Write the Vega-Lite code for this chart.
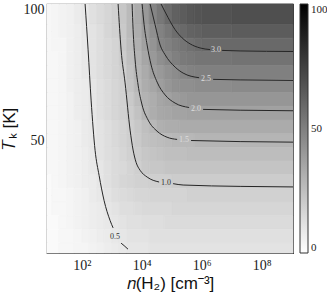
{
"$schema":"https://vega.github.io/schema/vega-lite/v6.json",
"width":246,"height":249,
"autosize":{"type":"none"},
"padding":{"left":47,"top":4,"right":34,"bottom":48},
"config":{"view":{"stroke":"#3a3a3a","strokeWidth":1.2},"axis":{"grid":false,"domainColor":"#3a3a3a","tickColor":"#3a3a3a","labelColor":"#222222","titleColor":"#111111","labelFont":"Liberation Serif","labelFontSize":14,"titleFont":"Liberation Sans","titleFontSize":17,"titleFontWeight":"normal","tickSize":-4,"labelOverlap":false,"labelFlush":false}},
"datasets":{
"cells":[
{"x0":0.84,"x1":1,"t0":92.5,"t1":100,"v":3},{"x0":1,"x1":1.25,"t0":92.5,"t1":100,"v":4},{"x0":1.25,"x1":1.5,"t0":92.5,"t1":100,"v":5},{"x0":1.5,"x1":1.75,"t0":92.5,"t1":100,"v":6},{"x0":1.75,"x1":2,"t0":92.5,"t1":100,"v":8},{"x0":2,"x1":2.25,"t0":92.5,"t1":100,"v":9},{"x0":2.25,"x1":2.5,"t0":92.5,"t1":100,"v":12},{"x0":2.5,"x1":2.75,"t0":92.5,"t1":100,"v":14},{"x0":2.75,"x1":3,"t0":92.5,"t1":100,"v":16},{"x0":3,"x1":3.25,"t0":92.5,"t1":100,"v":18},{"x0":3.25,"x1":3.5,"t0":92.5,"t1":100,"v":22},{"x0":3.5,"x1":3.75,"t0":92.5,"t1":100,"v":27},{"x0":3.75,"x1":4,"t0":92.5,"t1":100,"v":33},{"x0":4,"x1":4.25,"t0":92.5,"t1":100,"v":40},{"x0":4.25,"x1":4.5,"t0":92.5,"t1":100,"v":48},{"x0":4.5,"x1":4.75,"t0":92.5,"t1":100,"v":53},{"x0":4.75,"x1":5,"t0":92.5,"t1":100,"v":58},{"x0":5,"x1":5.25,"t0":92.5,"t1":100,"v":62},{"x0":5.25,"x1":5.5,"t0":92.5,"t1":100,"v":64},{"x0":5.5,"x1":5.75,"t0":92.5,"t1":100,"v":66},{"x0":5.75,"x1":6,"t0":92.5,"t1":100,"v":67},{"x0":6,"x1":7,"t0":92.5,"t1":100,"v":68},{"x0":7,"x1":9.04,"t0":92.5,"t1":100,"v":69},
{"x0":0.84,"x1":1,"t0":87.5,"t1":92.5,"v":3},{"x0":1,"x1":1.25,"t0":87.5,"t1":92.5,"v":4},{"x0":1.25,"x1":1.5,"t0":87.5,"t1":92.5,"v":5},{"x0":1.5,"x1":1.75,"t0":87.5,"t1":92.5,"v":6},{"x0":1.75,"x1":2,"t0":87.5,"t1":92.5,"v":7},{"x0":2,"x1":2.25,"t0":87.5,"t1":92.5,"v":9},{"x0":2.25,"x1":2.5,"t0":87.5,"t1":92.5,"v":11},{"x0":2.5,"x1":2.75,"t0":87.5,"t1":92.5,"v":13},{"x0":2.75,"x1":3,"t0":87.5,"t1":92.5,"v":16},{"x0":3,"x1":3.25,"t0":87.5,"t1":92.5,"v":18},{"x0":3.25,"x1":3.5,"t0":87.5,"t1":92.5,"v":21},{"x0":3.5,"x1":3.75,"t0":87.5,"t1":92.5,"v":27},{"x0":3.75,"x1":4,"t0":87.5,"t1":92.5,"v":32},{"x0":4,"x1":4.25,"t0":87.5,"t1":92.5,"v":38},{"x0":4.25,"x1":4.5,"t0":87.5,"t1":92.5,"v":44},{"x0":4.5,"x1":4.75,"t0":87.5,"t1":92.5,"v":49},{"x0":4.75,"x1":5,"t0":87.5,"t1":92.5,"v":53},{"x0":5,"x1":5.25,"t0":87.5,"t1":92.5,"v":57},{"x0":5.25,"x1":5.5,"t0":87.5,"t1":92.5,"v":59},{"x0":5.5,"x1":5.75,"t0":87.5,"t1":92.5,"v":61},{"x0":5.75,"x1":6,"t0":87.5,"t1":92.5,"v":62},{"x0":6,"x1":7,"t0":87.5,"t1":92.5,"v":63},{"x0":7,"x1":9.04,"t0":87.5,"t1":92.5,"v":64},
{"x0":0.84,"x1":1,"t0":82.5,"t1":87.5,"v":3},{"x0":1,"x1":1.5,"t0":82.5,"t1":87.5,"v":4},{"x0":1.5,"x1":1.75,"t0":82.5,"t1":87.5,"v":6},{"x0":1.75,"x1":2,"t0":82.5,"t1":87.5,"v":7},{"x0":2,"x1":2.25,"t0":82.5,"t1":87.5,"v":9},{"x0":2.25,"x1":2.5,"t0":82.5,"t1":87.5,"v":11},{"x0":2.5,"x1":2.75,"t0":82.5,"t1":87.5,"v":13},{"x0":2.75,"x1":3,"t0":82.5,"t1":87.5,"v":15},{"x0":3,"x1":3.25,"t0":82.5,"t1":87.5,"v":17},{"x0":3.25,"x1":3.5,"t0":82.5,"t1":87.5,"v":21},{"x0":3.5,"x1":3.75,"t0":82.5,"t1":87.5,"v":26},{"x0":3.75,"x1":4,"t0":82.5,"t1":87.5,"v":31},{"x0":4,"x1":4.25,"t0":82.5,"t1":87.5,"v":37},{"x0":4.25,"x1":4.5,"t0":82.5,"t1":87.5,"v":42},{"x0":4.5,"x1":4.75,"t0":82.5,"t1":87.5,"v":48},{"x0":4.75,"x1":5,"t0":82.5,"t1":87.5,"v":50},{"x0":5,"x1":5.25,"t0":82.5,"t1":87.5,"v":52},{"x0":5.25,"x1":5.5,"t0":82.5,"t1":87.5,"v":54},{"x0":5.5,"x1":5.75,"t0":82.5,"t1":87.5,"v":56},{"x0":5.75,"x1":6,"t0":82.5,"t1":87.5,"v":58},{"x0":6,"x1":9.04,"t0":82.5,"t1":87.5,"v":59},
{"x0":0.84,"x1":1.25,"t0":77.5,"t1":82.5,"v":3},{"x0":1.25,"x1":1.5,"t0":77.5,"t1":82.5,"v":4},{"x0":1.5,"x1":1.75,"t0":77.5,"t1":82.5,"v":6},{"x0":1.75,"x1":2,"t0":77.5,"t1":82.5,"v":7},{"x0":2,"x1":2.25,"t0":77.5,"t1":82.5,"v":9},{"x0":2.25,"x1":2.5,"t0":77.5,"t1":82.5,"v":11},{"x0":2.5,"x1":2.75,"t0":77.5,"t1":82.5,"v":13},{"x0":2.75,"x1":3,"t0":77.5,"t1":82.5,"v":15},{"x0":3,"x1":3.25,"t0":77.5,"t1":82.5,"v":17},{"x0":3.25,"x1":3.5,"t0":77.5,"t1":82.5,"v":20},{"x0":3.5,"x1":3.75,"t0":77.5,"t1":82.5,"v":25},{"x0":3.75,"x1":4,"t0":77.5,"t1":82.5,"v":30},{"x0":4,"x1":4.25,"t0":77.5,"t1":82.5,"v":35},{"x0":4.25,"x1":4.5,"t0":77.5,"t1":82.5,"v":40},{"x0":4.5,"x1":4.75,"t0":77.5,"t1":82.5,"v":44},{"x0":4.75,"x1":5,"t0":77.5,"t1":82.5,"v":47},{"x0":5,"x1":5.25,"t0":77.5,"t1":82.5,"v":50},{"x0":5.25,"x1":5.5,"t0":77.5,"t1":82.5,"v":52},{"x0":5.5,"x1":5.75,"t0":77.5,"t1":82.5,"v":53},{"x0":5.75,"x1":7,"t0":77.5,"t1":82.5,"v":54},{"x0":7,"x1":9.04,"t0":77.5,"t1":82.5,"v":55},
{"x0":0.84,"x1":1.25,"t0":72.5,"t1":77.5,"v":3},{"x0":1.25,"x1":1.5,"t0":72.5,"t1":77.5,"v":4},{"x0":1.5,"x1":1.75,"t0":72.5,"t1":77.5,"v":6},{"x0":1.75,"x1":2,"t0":72.5,"t1":77.5,"v":7},{"x0":2,"x1":2.25,"t0":72.5,"t1":77.5,"v":9},{"x0":2.25,"x1":2.5,"t0":72.5,"t1":77.5,"v":11},{"x0":2.5,"x1":2.75,"t0":72.5,"t1":77.5,"v":13},{"x0":2.75,"x1":3,"t0":72.5,"t1":77.5,"v":15},{"x0":3,"x1":3.25,"t0":72.5,"t1":77.5,"v":17},{"x0":3.25,"x1":3.5,"t0":72.5,"t1":77.5,"v":19},{"x0":3.5,"x1":3.75,"t0":72.5,"t1":77.5,"v":24},{"x0":3.75,"x1":4,"t0":72.5,"t1":77.5,"v":29},{"x0":4,"x1":4.25,"t0":72.5,"t1":77.5,"v":33},{"x0":4.25,"x1":4.5,"t0":72.5,"t1":77.5,"v":38},{"x0":4.5,"x1":4.75,"t0":72.5,"t1":77.5,"v":40},{"x0":4.75,"x1":5,"t0":72.5,"t1":77.5,"v":43},{"x0":5,"x1":5.25,"t0":72.5,"t1":77.5,"v":45},{"x0":5.25,"x1":5.5,"t0":72.5,"t1":77.5,"v":48},{"x0":5.5,"x1":5.75,"t0":72.5,"t1":77.5,"v":49},{"x0":5.75,"x1":9.04,"t0":72.5,"t1":77.5,"v":50},
{"x0":0.84,"x1":1.25,"t0":67.5,"t1":72.5,"v":3},{"x0":1.25,"x1":1.5,"t0":67.5,"t1":72.5,"v":4},{"x0":1.5,"x1":1.75,"t0":67.5,"t1":72.5,"v":6},{"x0":1.75,"x1":2,"t0":67.5,"t1":72.5,"v":7},{"x0":2,"x1":2.25,"t0":67.5,"t1":72.5,"v":8},{"x0":2.25,"x1":2.5,"t0":67.5,"t1":72.5,"v":10},{"x0":2.5,"x1":2.75,"t0":67.5,"t1":72.5,"v":12},{"x0":2.75,"x1":3,"t0":67.5,"t1":72.5,"v":14},{"x0":3,"x1":3.25,"t0":67.5,"t1":72.5,"v":16},{"x0":3.25,"x1":3.5,"t0":67.5,"t1":72.5,"v":18},{"x0":3.5,"x1":3.75,"t0":67.5,"t1":72.5,"v":23},{"x0":3.75,"x1":4,"t0":67.5,"t1":72.5,"v":28},{"x0":4,"x1":4.25,"t0":67.5,"t1":72.5,"v":32},{"x0":4.25,"x1":4.5,"t0":67.5,"t1":72.5,"v":35},{"x0":4.5,"x1":4.75,"t0":67.5,"t1":72.5,"v":38},{"x0":4.75,"x1":5,"t0":67.5,"t1":72.5,"v":41},{"x0":5,"x1":5.25,"t0":67.5,"t1":72.5,"v":43},{"x0":5.25,"x1":5.75,"t0":67.5,"t1":72.5,"v":44},{"x0":5.75,"x1":7,"t0":67.5,"t1":72.5,"v":45},{"x0":7,"x1":9.04,"t0":67.5,"t1":72.5,"v":46},
{"x0":0.84,"x1":1.25,"t0":62.5,"t1":67.5,"v":3},{"x0":1.25,"x1":1.5,"t0":62.5,"t1":67.5,"v":4},{"x0":1.5,"x1":1.75,"t0":62.5,"t1":67.5,"v":5},{"x0":1.75,"x1":2,"t0":62.5,"t1":67.5,"v":7},{"x0":2,"x1":2.25,"t0":62.5,"t1":67.5,"v":8},{"x0":2.25,"x1":2.5,"t0":62.5,"t1":67.5,"v":10},{"x0":2.5,"x1":2.75,"t0":62.5,"t1":67.5,"v":12},{"x0":2.75,"x1":3,"t0":62.5,"t1":67.5,"v":14},{"x0":3,"x1":3.25,"t0":62.5,"t1":67.5,"v":16},{"x0":3.25,"x1":3.5,"t0":62.5,"t1":67.5,"v":18},{"x0":3.5,"x1":3.75,"t0":62.5,"t1":67.5,"v":21},{"x0":3.75,"x1":4,"t0":62.5,"t1":67.5,"v":26},{"x0":4,"x1":4.25,"t0":62.5,"t1":67.5,"v":30},{"x0":4.25,"x1":4.5,"t0":62.5,"t1":67.5,"v":32},{"x0":4.5,"x1":4.75,"t0":62.5,"t1":67.5,"v":35},{"x0":4.75,"x1":5,"t0":62.5,"t1":67.5,"v":37},{"x0":5,"x1":5.25,"t0":62.5,"t1":67.5,"v":39},{"x0":5.25,"x1":5.5,"t0":62.5,"t1":67.5,"v":40},{"x0":5.5,"x1":9.04,"t0":62.5,"t1":67.5,"v":41},
{"x0":0.84,"x1":1.25,"t0":57.5,"t1":62.5,"v":3},{"x0":1.25,"x1":1.5,"t0":57.5,"t1":62.5,"v":4},{"x0":1.5,"x1":1.75,"t0":57.5,"t1":62.5,"v":5},{"x0":1.75,"x1":2,"t0":57.5,"t1":62.5,"v":7},{"x0":2,"x1":2.25,"t0":57.5,"t1":62.5,"v":8},{"x0":2.25,"x1":2.5,"t0":57.5,"t1":62.5,"v":10},{"x0":2.5,"x1":2.75,"t0":57.5,"t1":62.5,"v":12},{"x0":2.75,"x1":3,"t0":57.5,"t1":62.5,"v":14},{"x0":3,"x1":3.25,"t0":57.5,"t1":62.5,"v":16},{"x0":3.25,"x1":3.5,"t0":57.5,"t1":62.5,"v":18},{"x0":3.5,"x1":3.75,"t0":57.5,"t1":62.5,"v":20},{"x0":3.75,"x1":4,"t0":57.5,"t1":62.5,"v":24},{"x0":4,"x1":4.25,"t0":57.5,"t1":62.5,"v":29},{"x0":4.25,"x1":4.5,"t0":57.5,"t1":62.5,"v":32},{"x0":4.5,"x1":4.75,"t0":57.5,"t1":62.5,"v":34},{"x0":4.75,"x1":5,"t0":57.5,"t1":62.5,"v":35},{"x0":5,"x1":5.5,"t0":57.5,"t1":62.5,"v":36},{"x0":5.5,"x1":9.04,"t0":57.5,"t1":62.5,"v":37},
{"x0":0.84,"x1":1.25,"t0":52.5,"t1":57.5,"v":3},{"x0":1.25,"x1":1.5,"t0":52.5,"t1":57.5,"v":4},{"x0":1.5,"x1":1.75,"t0":52.5,"t1":57.5,"v":5},{"x0":1.75,"x1":2,"t0":52.5,"t1":57.5,"v":6},{"x0":2,"x1":2.25,"t0":52.5,"t1":57.5,"v":8},{"x0":2.25,"x1":2.5,"t0":52.5,"t1":57.5,"v":9},{"x0":2.5,"x1":2.75,"t0":52.5,"t1":57.5,"v":11},{"x0":2.75,"x1":3,"t0":52.5,"t1":57.5,"v":13},{"x0":3,"x1":3.25,"t0":52.5,"t1":57.5,"v":15},{"x0":3.25,"x1":3.5,"t0":52.5,"t1":57.5,"v":17},{"x0":3.5,"x1":3.75,"t0":52.5,"t1":57.5,"v":19},{"x0":3.75,"x1":4,"t0":52.5,"t1":57.5,"v":22},{"x0":4,"x1":4.25,"t0":52.5,"t1":57.5,"v":25},{"x0":4.25,"x1":4.5,"t0":52.5,"t1":57.5,"v":28},{"x0":4.5,"x1":4.75,"t0":52.5,"t1":57.5,"v":31},{"x0":4.75,"x1":5.25,"t0":52.5,"t1":57.5,"v":32},{"x0":5.25,"x1":9.04,"t0":52.5,"t1":57.5,"v":33},
{"x0":0.84,"x1":1.25,"t0":47.5,"t1":52.5,"v":3},{"x0":1.25,"x1":1.5,"t0":47.5,"t1":52.5,"v":4},{"x0":1.5,"x1":1.75,"t0":47.5,"t1":52.5,"v":5},{"x0":1.75,"x1":2,"t0":47.5,"t1":52.5,"v":6},{"x0":2,"x1":2.25,"t0":47.5,"t1":52.5,"v":8},{"x0":2.25,"x1":2.5,"t0":47.5,"t1":52.5,"v":9},{"x0":2.5,"x1":2.75,"t0":47.5,"t1":52.5,"v":11},{"x0":2.75,"x1":3,"t0":47.5,"t1":52.5,"v":13},{"x0":3,"x1":3.25,"t0":47.5,"t1":52.5,"v":15},{"x0":3.25,"x1":3.5,"t0":47.5,"t1":52.5,"v":17},{"x0":3.5,"x1":3.75,"t0":47.5,"t1":52.5,"v":19},{"x0":3.75,"x1":4,"t0":47.5,"t1":52.5,"v":21},{"x0":4,"x1":4.25,"t0":47.5,"t1":52.5,"v":24},{"x0":4.25,"x1":4.5,"t0":47.5,"t1":52.5,"v":25},{"x0":4.5,"x1":4.75,"t0":47.5,"t1":52.5,"v":26},{"x0":4.75,"x1":5,"t0":47.5,"t1":52.5,"v":27},{"x0":5,"x1":5.75,"t0":47.5,"t1":52.5,"v":28},{"x0":5.75,"x1":9.04,"t0":47.5,"t1":52.5,"v":29},
{"x0":0.84,"x1":1.25,"t0":42.5,"t1":47.5,"v":3},{"x0":1.25,"x1":1.5,"t0":42.5,"t1":47.5,"v":4},{"x0":1.5,"x1":1.75,"t0":42.5,"t1":47.5,"v":5},{"x0":1.75,"x1":2,"t0":42.5,"t1":47.5,"v":6},{"x0":2,"x1":2.25,"t0":42.5,"t1":47.5,"v":7},{"x0":2.25,"x1":2.5,"t0":42.5,"t1":47.5,"v":9},{"x0":2.5,"x1":2.75,"t0":42.5,"t1":47.5,"v":11},{"x0":2.75,"x1":3,"t0":42.5,"t1":47.5,"v":13},{"x0":3,"x1":3.25,"t0":42.5,"t1":47.5,"v":14},{"x0":3.25,"x1":3.5,"t0":42.5,"t1":47.5,"v":16},{"x0":3.5,"x1":3.75,"t0":42.5,"t1":47.5,"v":18},{"x0":3.75,"x1":4,"t0":42.5,"t1":47.5,"v":20},{"x0":4,"x1":4.25,"t0":42.5,"t1":47.5,"v":22},{"x0":4.25,"x1":4.5,"t0":42.5,"t1":47.5,"v":23},{"x0":4.5,"x1":4.75,"t0":42.5,"t1":47.5,"v":24},{"x0":4.75,"x1":5.5,"t0":42.5,"t1":47.5,"v":25},{"x0":5.5,"x1":9.04,"t0":42.5,"t1":47.5,"v":26},
{"x0":0.84,"x1":1.25,"t0":37.5,"t1":42.5,"v":3},{"x0":1.25,"x1":1.5,"t0":37.5,"t1":42.5,"v":4},{"x0":1.5,"x1":1.75,"t0":37.5,"t1":42.5,"v":5},{"x0":1.75,"x1":2,"t0":37.5,"t1":42.5,"v":6},{"x0":2,"x1":2.25,"t0":37.5,"t1":42.5,"v":7},{"x0":2.25,"x1":2.5,"t0":37.5,"t1":42.5,"v":9},{"x0":2.5,"x1":2.75,"t0":37.5,"t1":42.5,"v":10},{"x0":2.75,"x1":3,"t0":37.5,"t1":42.5,"v":12},{"x0":3,"x1":3.25,"t0":37.5,"t1":42.5,"v":14},{"x0":3.25,"x1":3.5,"t0":37.5,"t1":42.5,"v":15},{"x0":3.5,"x1":3.75,"t0":37.5,"t1":42.5,"v":17},{"x0":3.75,"x1":4,"t0":37.5,"t1":42.5,"v":19},{"x0":4,"x1":4.25,"t0":37.5,"t1":42.5,"v":21},{"x0":4.25,"x1":4.75,"t0":37.5,"t1":42.5,"v":22},{"x0":4.75,"x1":9.04,"t0":37.5,"t1":42.5,"v":23},
{"x0":0.84,"x1":1,"t0":32.5,"t1":37.5,"v":2},{"x0":1,"x1":1.25,"t0":32.5,"t1":37.5,"v":3},{"x0":1.25,"x1":1.5,"t0":32.5,"t1":37.5,"v":4},{"x0":1.5,"x1":1.75,"t0":32.5,"t1":37.5,"v":5},{"x0":1.75,"x1":2,"t0":32.5,"t1":37.5,"v":6},{"x0":2,"x1":2.25,"t0":32.5,"t1":37.5,"v":7},{"x0":2.25,"x1":2.5,"t0":32.5,"t1":37.5,"v":8},{"x0":2.5,"x1":2.75,"t0":32.5,"t1":37.5,"v":10},{"x0":2.75,"x1":3,"t0":32.5,"t1":37.5,"v":12},{"x0":3,"x1":3.25,"t0":32.5,"t1":37.5,"v":14},{"x0":3.25,"x1":3.5,"t0":32.5,"t1":37.5,"v":16},{"x0":3.5,"x1":3.75,"t0":32.5,"t1":37.5,"v":17},{"x0":3.75,"x1":4.25,"t0":32.5,"t1":37.5,"v":18},{"x0":4.25,"x1":5,"t0":32.5,"t1":37.5,"v":19},{"x0":5,"x1":9.04,"t0":32.5,"t1":37.5,"v":20},
{"x0":0.84,"x1":1,"t0":27.5,"t1":32.5,"v":2},{"x0":1,"x1":1.5,"t0":27.5,"t1":32.5,"v":3},{"x0":1.5,"x1":1.75,"t0":27.5,"t1":32.5,"v":4},{"x0":1.75,"x1":2,"t0":27.5,"t1":32.5,"v":5},{"x0":2,"x1":2.25,"t0":27.5,"t1":32.5,"v":6},{"x0":2.25,"x1":2.5,"t0":27.5,"t1":32.5,"v":8},{"x0":2.5,"x1":2.75,"t0":27.5,"t1":32.5,"v":9},{"x0":2.75,"x1":3,"t0":27.5,"t1":32.5,"v":11},{"x0":3,"x1":3.25,"t0":27.5,"t1":32.5,"v":13},{"x0":3.25,"x1":3.5,"t0":27.5,"t1":32.5,"v":14},{"x0":3.5,"x1":3.75,"t0":27.5,"t1":32.5,"v":15},{"x0":3.75,"x1":4.25,"t0":27.5,"t1":32.5,"v":16},{"x0":4.25,"x1":5.5,"t0":27.5,"t1":32.5,"v":17},{"x0":5.5,"x1":9.04,"t0":27.5,"t1":32.5,"v":18},
{"x0":0.84,"x1":1,"t0":22.5,"t1":27.5,"v":2},{"x0":1,"x1":1.5,"t0":22.5,"t1":27.5,"v":3},{"x0":1.5,"x1":1.75,"t0":22.5,"t1":27.5,"v":4},{"x0":1.75,"x1":2,"t0":22.5,"t1":27.5,"v":5},{"x0":2,"x1":2.25,"t0":22.5,"t1":27.5,"v":6},{"x0":2.25,"x1":2.5,"t0":22.5,"t1":27.5,"v":7},{"x0":2.5,"x1":2.75,"t0":22.5,"t1":27.5,"v":8},{"x0":2.75,"x1":3,"t0":22.5,"t1":27.5,"v":10},{"x0":3,"x1":3.25,"t0":22.5,"t1":27.5,"v":11},{"x0":3.25,"x1":3.75,"t0":22.5,"t1":27.5,"v":13},{"x0":3.75,"x1":4,"t0":22.5,"t1":27.5,"v":14},{"x0":4,"x1":5,"t0":22.5,"t1":27.5,"v":15},{"x0":5,"x1":9.04,"t0":22.5,"t1":27.5,"v":16},
{"x0":0.84,"x1":1.25,"t0":17.5,"t1":22.5,"v":2},{"x0":1.25,"x1":1.5,"t0":17.5,"t1":22.5,"v":3},{"x0":1.5,"x1":1.75,"t0":17.5,"t1":22.5,"v":4},{"x0":1.75,"x1":2,"t0":17.5,"t1":22.5,"v":5},{"x0":2,"x1":2.25,"t0":17.5,"t1":22.5,"v":6},{"x0":2.25,"x1":2.5,"t0":17.5,"t1":22.5,"v":7},{"x0":2.5,"x1":2.75,"t0":17.5,"t1":22.5,"v":8},{"x0":2.75,"x1":3,"t0":17.5,"t1":22.5,"v":9},{"x0":3,"x1":3.25,"t0":17.5,"t1":22.5,"v":10},{"x0":3.25,"x1":3.5,"t0":17.5,"t1":22.5,"v":11},{"x0":3.5,"x1":4,"t0":17.5,"t1":22.5,"v":12},{"x0":4,"x1":4.75,"t0":17.5,"t1":22.5,"v":13},{"x0":4.75,"x1":9.04,"t0":17.5,"t1":22.5,"v":14},
{"x0":0.84,"x1":1.25,"t0":12.5,"t1":17.5,"v":2},{"x0":1.25,"x1":1.75,"t0":12.5,"t1":17.5,"v":3},{"x0":1.75,"x1":2,"t0":12.5,"t1":17.5,"v":4},{"x0":2,"x1":2.25,"t0":12.5,"t1":17.5,"v":5},{"x0":2.25,"x1":2.5,"t0":12.5,"t1":17.5,"v":6},{"x0":2.5,"x1":2.75,"t0":12.5,"t1":17.5,"v":7},{"x0":2.75,"x1":3,"t0":12.5,"t1":17.5,"v":8},{"x0":3,"x1":3.25,"t0":12.5,"t1":17.5,"v":9},{"x0":3.25,"x1":3.5,"t0":12.5,"t1":17.5,"v":10},{"x0":3.5,"x1":4.25,"t0":12.5,"t1":17.5,"v":11},{"x0":4.25,"x1":9.04,"t0":12.5,"t1":17.5,"v":12},
{"x0":0.84,"x1":1.25,"t0":8.8,"t1":12.5,"v":2},{"x0":1.25,"x1":1.75,"t0":8.8,"t1":12.5,"v":3},{"x0":1.75,"x1":2.25,"t0":8.8,"t1":12.5,"v":4},{"x0":2.25,"x1":2.5,"t0":8.8,"t1":12.5,"v":5},{"x0":2.5,"x1":2.75,"t0":8.8,"t1":12.5,"v":6},{"x0":2.75,"x1":3,"t0":8.8,"t1":12.5,"v":7},{"x0":3,"x1":3.25,"t0":8.8,"t1":12.5,"v":8},{"x0":3.25,"x1":3.5,"t0":8.8,"t1":12.5,"v":9},{"x0":3.5,"x1":4.25,"t0":8.8,"t1":12.5,"v":10},{"x0":4.25,"x1":9.04,"t0":8.8,"t1":12.5,"v":11}
],
"contours":[
{"seg":"3.0a","lx":4.643,"T":100},{"seg":"3.0a","lx":4.877,"T":95.0},{"seg":"3.0a","lx":5.11,"T":90.6},{"seg":"3.0a","lx":5.343,"T":87.6},{"seg":"3.0a","lx":5.61,"T":85.4},{"seg":"3.0a","lx":5.943,"T":83.9},{"seg":"3.0a","lx":6.277,"T":83.3},
{"seg":"3.0b","lx":6.677,"T":83.0},{"seg":"3.0b","lx":7.277,"T":82.8},{"seg":"3.0b","lx":9.04,"T":82.6},
{"seg":"2.5a","lx":4.277,"T":100},{"seg":"2.5a","lx":4.443,"T":92.4},{"seg":"2.5a","lx":4.61,"T":85.0},{"seg":"2.5a","lx":4.777,"T":81.4},{"seg":"2.5a","lx":5.11,"T":76.9},{"seg":"2.5a","lx":5.377,"T":74.7},{"seg":"2.5a","lx":5.91,"T":73.0},
{"seg":"2.5b","lx":6.377,"T":72.4},{"seg":"2.5b","lx":7.277,"T":72.2},{"seg":"2.5b","lx":9.04,"T":72.0},
{"seg":"2.0a","lx":4.01,"T":100},{"seg":"2.0a","lx":4.077,"T":92.4},{"seg":"2.0a","lx":4.177,"T":85.0},{"seg":"2.0a","lx":4.31,"T":77.7},{"seg":"2.0a","lx":4.51,"T":71.4},{"seg":"2.0a","lx":4.777,"T":66.7},{"seg":"2.0a","lx":5.11,"T":63.7},{"seg":"2.0a","lx":5.577,"T":62.1},
{"seg":"2.0b","lx":6.043,"T":61.4},{"seg":"2.0b","lx":7.277,"T":61.1},{"seg":"2.0b","lx":9.04,"T":60.9},
{"seg":"1.5a","lx":3.677,"T":100},{"seg":"1.5a","lx":3.71,"T":90.6},{"seg":"1.5a","lx":3.777,"T":79.5},{"seg":"1.5a","lx":3.877,"T":70.3},{"seg":"1.5a","lx":4.01,"T":63.0},{"seg":"1.5a","lx":4.21,"T":57.5},{"seg":"1.5a","lx":4.51,"T":53.4},{"seg":"1.5a","lx":4.843,"T":51.2},{"seg":"1.5a","lx":5.177,"T":50.4},
{"seg":"1.5b","lx":5.643,"T":50.0},{"seg":"1.5b","lx":7.277,"T":49.6},{"seg":"1.5b","lx":9.04,"T":49.4},
{"seg":"1.0a","lx":3.21,"T":100},{"seg":"1.0a","lx":3.31,"T":83.2},{"seg":"1.0a","lx":3.443,"T":71.1},{"seg":"1.0a","lx":3.61,"T":53.8},{"seg":"1.0a","lx":3.71,"T":46.5},{"seg":"1.0a","lx":3.81,"T":42.0},{"seg":"1.0a","lx":3.943,"T":39.1},{"seg":"1.0a","lx":4.18,"T":36.6},{"seg":"1.0a","lx":4.577,"T":34.8},
{"seg":"1.0b","lx":5.043,"T":34.2},{"seg":"1.0b","lx":5.377,"T":33.7},{"seg":"1.0b","lx":7.277,"T":33.2},{"seg":"1.0b","lx":9.04,"T":33.0},
{"seg":"0.5a","lx":2.11,"T":100},{"seg":"0.5a","lx":2.21,"T":83.2},{"seg":"0.5a","lx":2.31,"T":64.8},{"seg":"0.5a","lx":2.443,"T":46.4},{"seg":"0.5a","lx":2.577,"T":37.2},{"seg":"0.5a","lx":2.743,"T":28.0},{"seg":"0.5a","lx":2.943,"T":20.7},{"seg":"0.5a","lx":3.043,"T":18.0},
{"seg":"0.5b","lx":3.31,"T":12.4},{"seg":"0.5b","lx":3.41,"T":11.5},{"seg":"0.5b","lx":3.54,"T":10.2}
],
"labels":[
{"c":3.0,"label":"3.0","lx":6.477,"T":83.0},{"c":2.5,"label":"2.5","lx":6.143,"T":72.6},{"c":2.0,"label":"2.0","lx":5.81,"T":61.6},{"c":1.5,"label":"1.5","lx":5.41,"T":50.1},{"c":1.0,"label":"1.0","lx":4.81,"T":34.5},{"c":0.5,"label":"0.5","lx":3.11,"T":14.5}
]
},
"layer":[
{"data":{"name":"cells"},
 "mark":{"type":"rect","strokeWidth":0.7,"stroke":{"expr":"scale('color', datum.v)"}},
 "encoding":{
  "x":{"field":"x0","type":"quantitative","scale":{"domain":[0.84,9.04],"nice":false,"zero":false},
       "axis":{"orient":"bottom","values":[1,2,3,4,5,6,7,8,9],"labelExpr":"datum.value == 2 ? '10²' : datum.value == 4 ? '10⁴' : datum.value == 6 ? '10⁶' : datum.value == 8 ? '10⁸' : ''","labelPadding":9,"title":"𝑛(H₂)  [cm⁻³]","titlePadding":3}},
  "x2":{"field":"x1"},
  "y":{"field":"t0","type":"quantitative","scale":{"domain":[8.8,100],"nice":false,"zero":false},
       "axis":{"orient":"left","values":[10,20,30,40,50,60,70,80,90,100],"labelExpr":"datum.value == 50 || datum.value == 100 ? datum.label : ''","labelPadding":7,"labelFlush":true,"labelFlushOffset":2,"title":"𝑇ₖ  [K]","titlePadding":5}},
  "y2":{"field":"t1"},
  "color":{"field":"v","type":"quantitative","scale":{"domain":[0,100],"range":["#ffffff","#000000"],"interpolate":"rgb"},
       "legend":{"type":"gradient","orient":"none","legendX":253,"legendY":0,"direction":"vertical","gradientLength":249,"gradientThickness":8,"gradientStrokeColor":"#333333","gradientStrokeWidth":1,"values":[0,50,100],"title":null,"labelFont":"Liberation Serif","labelFontSize":11,"labelColor":"#222222","labelOffset":3}}
 }},
{"data":{"name":"contours"},
 "mark":{"type":"line","interpolate":"monotone","strokeWidth":1,"color":"#262626","clip":true},
 "encoding":{
  "x":{"field":"lx","type":"quantitative","axis":{"orient":"top","values":[1,2,3,4,5,6,7,8,9],"labels":false,"title":null}},
  "y":{"field":"T","type":"quantitative","axis":{"orient":"right","values":[10,20,30,40,50,60,70,80,90,100],"labels":false,"title":null}},
  "detail":{"field":"seg"}
 }},
{"data":{"name":"labels"},
 "mark":{"type":"text","font":"Liberation Serif","fontSize":8,"align":"center","baseline":"middle"},
 "encoding":{
  "x":{"field":"lx","type":"quantitative","axis":null},
  "y":{"field":"T","type":"quantitative","axis":null},
  "text":{"field":"label"},
  "color":{"condition":{"test":"datum.c >= 1.5","value":"#dddddd"},"value":"#303030"}
 }}
],
"resolve":{"axis":{"x":"independent","y":"independent"}}
}
